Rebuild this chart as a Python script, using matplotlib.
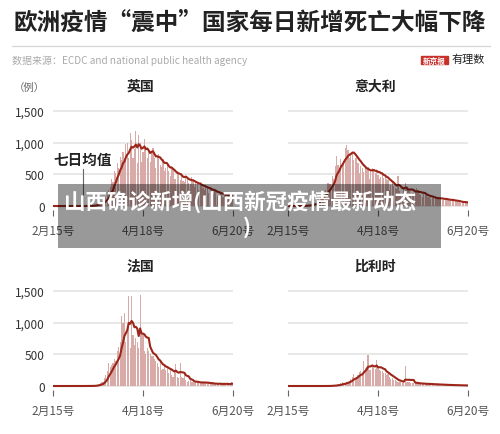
import matplotlib
matplotlib.use('Agg')
import matplotlib.pyplot as plt
import matplotlib.patches as mpatches
import numpy as np
import pandas as pd

plt.rcParams['font.family'] = ['Noto Sans CJK SC', 'DejaVu Sans']

# datos diarios de muertes, 15 feb - 20 jun (127 días)
reino_unido = [0] * 20 + [
    0, 1, 0, 1, 2, 2, 4, 5, 8, 14,
    18, 25, 40, 55, 60, 85, 95, 140, 180, 250,
    300, 420, 380, 560, 520, 680, 600, 780, 720, 850,
    760, 980, 1000, 760, 1150, 1040, 760, 900, 1180, 680,
    1120, 990, 700, 860, 1050, 880, 760, 900, 700, 840,
    920, 760, 600, 780, 820, 650, 620, 740, 560, 600,
    700, 560, 480, 620, 600, 430, 420, 560, 500, 410,
    520, 400, 380, 480, 430, 360, 350, 460, 390, 300,
    380, 360, 260, 350, 330, 290, 260, 310, 280, 200,
    290, 260, 190, 250, 230, 160, 170, 220, 180, 150,
    200, 170, 130, 180, 160, 140, 150]
italia = [
    0, 0, 0, 0, 0, 0, 0, 1, 2, 3,
    2, 5, 4, 8, 12, 11, 27, 28, 41, 49,
    36, 133, 97, 168, 196, 189, 250, 175, 368, 349,
    345, 475, 427, 627, 793, 651, 601, 743, 683, 712,
    919, 969, 889, 756, 812, 837, 727, 760, 766, 681,
    525, 636, 604, 542, 610, 570, 619, 431, 566, 602,
    578, 525, 575, 482, 433, 454, 534, 437, 464, 420,
    415, 260, 333, 382, 323, 285, 269, 474, 243, 194,
    200, 270, 370, 290, 260, 230, 200, 210, 200, 230,
    280, 250, 190, 180, 150, 190, 180, 170, 150, 140,
    110, 130, 120, 140, 110, 120, 130, 110, 100, 105,
    110, 100, 95, 85, 90, 95, 85, 75, 75, 70,
    60, 50, 55, 60, 70, 55, 55]
francia = [0] * 10 + [
    0, 0, 0, 0, 1, 0, 0, 0, 0, 0,
    0, 1, 0, 2, 1, 3, 0, 3, 2, 5,
    10, 20, 25, 40, 60, 60, 120, 180, 230, 360,
    300, 330, 360, 420, 400, 560, 620, 700, 1100, 1000,
    1150, 700, 900, 1420, 600, 1420, 800, 650, 750, 700,
    600, 1440, 850, 800, 560, 500, 600, 560, 500, 480,
    470, 430, 400, 360, 300, 380, 250, 270, 340, 260,
    300, 200, 280, 180, 150, 240, 350, 150, 120, 360,
    150, 130, 200, 90, 60, 80, 100, 70, 60, 50,
    70, 40, 60, 55, 65, 45, 60, 50, 45, 40,
    30, 50, 35, 25, 40, 30, 35, 45, 30, 25,
    35, 30, 40, 20, 30, 70, 35]
belgica = [0] * 20 + [
    0, 0, 0, 0, 0, 1, 0, 1, 2, 1,
    4, 10, 10, 14, 6, 30, 14, 42, 56, 50,
    42, 67, 70, 80, 110, 150, 190, 120, 140, 180,
    220, 230, 200, 390, 280, 300, 494, 260, 250, 300,
    290, 270, 404, 300, 260, 240, 230, 200, 210, 180,
    190, 150, 110, 120, 100, 90, 80, 70, 60, 70,
    50, 55, 316, 70, 65, 60, 50, 55, 45, 40,
    45, 40, 35, 30, 38, 42, 30, 28, 35, 30,
    25, 28, 30, 22, 25, 22, 20, 18, 25, 15,
    20, 16, 14, 12, 18, 15, 10, 12, 14, 10,
    8, 10, 12, 7, 9, 8, 6]

nombres = ['英国', '意大利', '法国', '比利时']
ejex_ticks = [0, 63, 126]
ejex_etiquetas = ['2月15号', '4月18号', '6月20号']
ejey_ticks = [0, 500, 1000, 1500]
ejey_etiquetas = ['0', '500', '1,000', '1,500']

W, H = 500, 435
fig = plt.figure(figsize=(5.0, 4.35), dpi=100)

def fx(x):
    return x / W

def fy(y):
    return 1 - y / H

def panel(x0, y_top, nombre, datos, con_ejey):
    ax = fig.add_axes([fx(x0), fy(y_top + 106), 180 / W, 106 / H])
    dias = np.arange(len(datos))
    media = pd.Series(datos, dtype=float).rolling(7, min_periods=1).mean()
    ax.bar(dias, datos, width=0.75, color='#d8aba8', linewidth=0, zorder=2)
    ax.plot(dias, media, color='#9c2519', lw=1.5, zorder=3)
    ax.set_xlim(0, 126)
    ax.set_ylim(-63, 1610)
    ax.set_yticks(ejey_ticks)
    ax.set_yticklabels(ejey_etiquetas if con_ejey else [])
    ax.set_xticks(ejex_ticks)
    ax.set_xticklabels(ejex_etiquetas)
    ax.grid(axis='y', color='#e2e2e2', lw=1.1, zorder=0)
    ax.set_axisbelow(True)
    for s in ax.spines.values():
        s.set_visible(False)
    ax.tick_params(axis='x', length=4, width=0.8, color='#666', pad=6,
                   labelsize=8.5, labelcolor='#555')
    ax.tick_params(axis='y', length=0, pad=6, labelsize=8.5, labelcolor='#333')
    fig.text(fx(x0 + 87), fy(y_top - 18), nombre, ha='center', va='center',
             fontsize=10, fontweight='bold', color='#222')
    return ax

ax1 = panel(53, 105, nombres[0], reino_unido, True)
ax2 = panel(288, 105, nombres[1], italia, False)
ax3 = panel(53, 285, nombres[2], francia, True)
ax4 = panel(288, 285, nombres[3], belgica, False)

# anotación 七日均值
ax1.text(0, 742, '七日均值', ha='left', va='center', fontsize=10.5,
         fontweight='bold', color='#222')
ax1.plot([21, 21], [590, 15], color='#666', lw=0.8, zorder=4)

fig.text(fx(29), fy(88), '（例）', ha='center', va='center', fontsize=7.5, color='#666')

# título y fuente
fig.text(fx(250), fy(23), '欧洲疫情“震中”国家每日新增死亡大幅下降', ha='center',
         va='center', fontsize=17, fontweight='heavy', color='#222')
fig.add_artist(plt.Line2D([fx(12), fx(490)], [fy(47), fy(47)], color='#d5d5d5', lw=0.9))
fig.text(fx(12), fy(61), '数据来源：ECDC and national public health agency', ha='left',
         va='center', fontsize=7.2, color='#aaa')
fig.add_artist(mpatches.Rectangle((fx(421), fy(65)), 27 / W, 8 / H, color='#c8302a',
                                  transform=fig.transFigure))
fig.text(fx(434.5), fy(61), '新京报', ha='center', va='center', fontsize=5.5,
         fontweight='bold', color='white')
fig.text(fx(468), fy(60), '有理数', ha='center', va='center', fontsize=8, color='#222')

# capa gris superpuesta
fig.add_artist(mpatches.Rectangle((fx(58), fy(249)), 383 / W, 64 / H, facecolor='black',
                                  alpha=0.4, linewidth=0, transform=fig.transFigure,
                                  zorder=10))
fig.text(fx(240), fy(202), '山西确诊新增(山西新冠疫情最新动态', ha='center', va='center',
         fontsize=15.5, fontweight='heavy', color='white', zorder=11)
fig.text(fx(247), fy(227), ')', ha='center', va='center',
         fontsize=15.5, fontweight='heavy', color='white', zorder=11)

fig.savefig('out.png', dpi=100)
